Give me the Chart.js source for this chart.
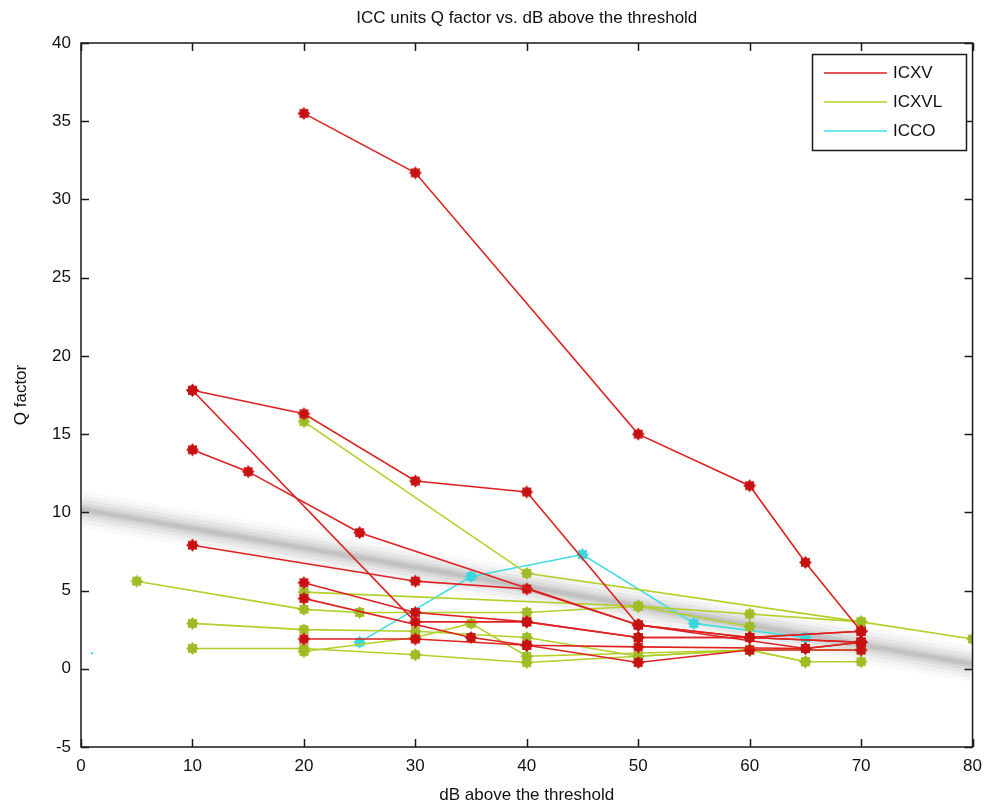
<!DOCTYPE html>
<html>
<head>
<meta charset="utf-8">
<script src="https://cdn.jsdelivr.net/npm/chart.js@4.4.1/dist/chart.umd.min.js"></script>
<style>
  html, body { margin: 0; padding: 0; background: #fff; }
</style>
</head>
<body>
<canvas id="qChart" width="991" height="808"></canvas>
<script>
// ICXV units (red)
const icxv1 = [[20, 35.5], [30, 31.7], [50, 15.0], [60, 11.7], [65, 6.8], [70, 2.4]];
const icxv2 = [[10, 17.8], [20, 16.3], [30, 12.0], [40, 11.3], [50, 2.8], [60, 2.0], [70, 2.4]];
const icxv3 = [[10, 17.8], [30, 3.0], [40, 3.0], [50, 2.0], [60, 2.0], [70, 1.7]];
const icxv4 = [[10, 14.0], [15, 12.6], [25, 8.7], [50, 2.8], [65, 1.3], [70, 1.7]];
const icxv5 = [[10, 7.9], [30, 5.6], [40, 5.1], [50, 2.8], [60, 2.0], [70, 2.4]];
const icxv6 = [[20, 5.5], [30, 3.6], [40, 3.0], [50, 2.0], [60, 2.0], [70, 1.7]];
const icxv7 = [[20, 4.5], [35, 2.0], [40, 1.5], [50, 1.4], [65, 1.3], [70, 1.7]];
const icxv8 = [[20, 1.9], [30, 1.9], [40, 1.5], [50, 0.4], [60, 1.2], [70, 1.2]];

// ICXVL units (yellow-green)
const icxvl1 = [[5, 5.6], [20, 3.8], [25, 3.6], [40, 3.6], [50, 4.0], [60, 2.7]];
const icxvl2 = [[20, 15.8], [40, 6.1], [70, 3.0], [80, 1.9]];
const icxvl3 = [[20, 4.9], [50, 4.0], [60, 3.5], [70, 3.0]];
const icxvl4 = [[10, 2.9], [20, 2.5], [30, 2.4], [40, 2.0], [50, 0.8], [60, 1.2], [70, 1.2]];
const icxvl5 = [[10, 1.3], [20, 1.3], [30, 0.9], [40, 0.4], [50, 0.8], [60, 1.2], [65, 0.45], [70, 0.45]];
const icxvl6 = [[20, 1.1], [30, 2.0], [35, 2.9], [40, 0.8], [60, 1.2], [65, 0.45]];

// ICCO units (cyan)
const icco1 = [[25, 1.7], [35, 5.9], [45, 7.3], [55, 2.9], [65, 2.0]];
const iccoStray = [[1, 1.0]];

// linear fit drawn as a soft grey band
const fitLine = [[0, 10.2], [80, 0.3]];

const xTicks = [0, 10, 20, 30, 40, 50, 60, 70, 80];
const yTicks = [-5, 0, 5, 10, 15, 20, 25, 30, 35, 40];

const groups = [
    { name: 'ICXV', line: 'rgb(222, 34, 34)', mark: 'rgb(200, 18, 18)', series: [icxv1, icxv2, icxv3, icxv4, icxv5, icxv6, icxv7, icxv8] },
    { name: 'ICXVL', line: 'rgb(178, 208, 40)', mark: 'rgb(158, 188, 36)', series: [icxvl1, icxvl2, icxvl3, icxvl4, icxvl5, icxvl6] },
    { name: 'ICCO', line: 'rgb(64, 222, 228)', mark: 'rgb(58, 214, 222)', series: [icco1] }
];

const FONT = '"Liberation Sans", Arial, sans-serif';

function makeMarker(color) {
    const c = document.createElement('canvas');
    c.width = 15;
    c.height = 15;
    const g = c.getContext('2d');
    g.fillStyle = color;
    g.beginPath();
    for (let i = 0; i < 16; i++) {
        const a = i * Math.PI / 8;
        const r = i % 2 ? 4.7 : 6.4;
        g.lineTo(7.5 + r * Math.cos(a), 7.5 + r * Math.sin(a));
    }
    g.closePath();
    g.fill();
    return c;
}

function toPoints(arr) {
    return arr.map(p => ({ x: p[0], y: p[1] }));
}

const datasets = [];

groups.forEach(grp => {
    const img = makeMarker(grp.mark);
    grp.series.forEach(s => {
        datasets.push({
            label: grp.name,
            data: toPoints(s),
            borderColor: grp.line,
            backgroundColor: grp.mark,
            borderWidth: 1.6,
            pointStyle: img,
            pointRadius: 6,
            tension: 0,
            order: 1
        });
    });
});

datasets.push({
    label: 'ICCO',
    data: toPoints(iccoStray),
    showLine: false,
    pointStyle: 'circle',
    pointRadius: 1.2,
    borderWidth: 0,
    backgroundColor: 'rgb(64, 222, 228)',
    order: 1
});

// blurred fit band: several stacked translucent strokes
[[36, 0.03], [28, 0.04], [20, 0.055], [13, 0.075], [7, 0.09], [3, 0.08]].forEach(b => {
    datasets.push({
        label: 'fit',
        data: toPoints(fitLine),
        borderColor: 'rgba(60, 60, 60, ' + b[1] + ')',
        borderWidth: b[0],
        pointRadius: 0,
        borderCapStyle: 'butt',
        clip: 0,
        order: 50
    });
});

const framePlugin = {
    id: 'frame',
    afterDraw(chart) {
        const ctx = chart.ctx;
        const a = chart.chartArea;
        const xs = chart.scales.x;
        const ys = chart.scales.y;
        ctx.save();
        ctx.strokeStyle = '#1a1a1a';
        ctx.lineWidth = 1.5;
        ctx.strokeRect(a.left, a.top, a.right - a.left, a.bottom - a.top);

        ctx.beginPath();
        xTicks.forEach(v => {
            const px = Math.round(xs.getPixelForValue(v)) + 0.5;
            ctx.moveTo(px, a.bottom); ctx.lineTo(px, a.bottom - 8);
            ctx.moveTo(px, a.top); ctx.lineTo(px, a.top + 8);
        });
        yTicks.forEach(v => {
            const py = Math.round(ys.getPixelForValue(v)) + 0.5;
            ctx.moveTo(a.left, py); ctx.lineTo(a.left + 8, py);
            ctx.moveTo(a.right, py); ctx.lineTo(a.right - 8, py);
        });
        ctx.stroke();

        ctx.fillStyle = '#111';
        ctx.font = '17px ' + FONT;
        ctx.textAlign = 'center';
        ctx.textBaseline = 'middle';
        const cx = (a.left + a.right) / 2;
        ctx.fillText('ICC units Q factor vs. dB above the threshold', cx, 18);
        ctx.fillText('dB above the threshold', cx, 795);
        ctx.save();
        ctx.translate(21, (a.top + a.bottom) / 2);
        ctx.rotate(-Math.PI / 2);
        ctx.fillText('Q factor', 0, 0);
        ctx.restore();

        // legend box
        const lx = 812, ly = 54, lw = 154, lh = 96;
        ctx.fillStyle = '#fff';
        ctx.fillRect(lx, ly, lw, lh);
        ctx.strokeStyle = '#1a1a1a';
        ctx.lineWidth = 1.5;
        ctx.strokeRect(lx + 0.5, ly + 0.5, lw, lh);
        ctx.textAlign = 'left';
        groups.forEach((grp, i) => {
            const y = ly + 19 + i * 29;
            ctx.strokeStyle = grp.line;
            ctx.lineWidth = 1.6;
            ctx.beginPath();
            ctx.moveTo(lx + 12, y);
            ctx.lineTo(lx + 75, y);
            ctx.stroke();
            ctx.fillStyle = '#111';
            ctx.fillText(grp.name, lx + 81, y);
        });
        ctx.restore();
    }
};

new Chart(document.getElementById('qChart').getContext('2d'), {
    type: 'line',
    data: { datasets: datasets },
    options: {
        responsive: false,
        animation: false,
        layout: { padding: { top: 43, right: 15, left: 0, bottom: 0 } },
        plugins: {
            legend: { display: false },
            tooltip: { enabled: false },
            title: { display: false }
        },
        scales: {
            x: {
                type: 'linear',
                min: 0,
                max: 80,
                afterFit(scale) { scale.height = 61; },
                afterBuildTicks(scale) { scale.ticks = xTicks.map(v => ({ value: v })); },
                grid: { display: false, drawTicks: false },
                border: { display: false },
                ticks: { padding: 9, color: '#111', font: { family: FONT, size: 17 } }
            },
            y: {
                type: 'linear',
                min: -5,
                max: 40,
                afterFit(scale) { scale.width = 81; },
                afterBuildTicks(scale) { scale.ticks = yTicks.map(v => ({ value: v })); },
                grid: { display: false, drawTicks: false },
                border: { display: false },
                ticks: { padding: 10, color: '#111', font: { family: FONT, size: 17 } }
            }
        }
    },
    plugins: [framePlugin]
});
</script>
</body>
</html>
